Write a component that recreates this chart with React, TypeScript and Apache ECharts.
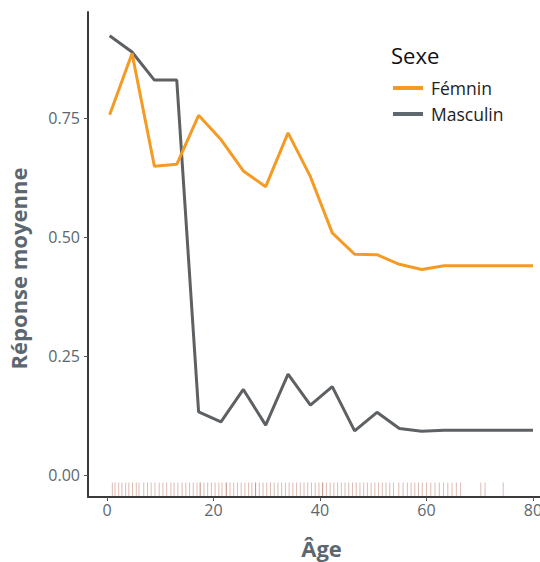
import React, { useEffect, useRef } from "react";
import * as echarts from "echarts";

const ages = [0.5, 4.7, 8.9, 13.1, 17.2, 21.4, 25.6, 29.8, 34.0, 38.2, 42.3, 46.5, 50.7, 54.9, 59.1, 63.3, 67.4, 71.6, 75.8, 80.0];
const femnin = [0.757, 0.886, 0.649, 0.653, 0.756, 0.705, 0.639, 0.606, 0.719, 0.627, 0.509, 0.464, 0.463, 0.443, 0.432, 0.44, 0.44, 0.44, 0.44, 0.44];
const masculin = [0.923, 0.889, 0.83, 0.83, 0.133, 0.112, 0.18, 0.105, 0.212, 0.147, 0.186, 0.093, 0.132, 0.098, 0.092, 0.094, 0.094, 0.094, 0.094, 0.094];
const rugAges = [
  1.0, 1.5, 2.2, 2.8, 3.5, 4.1, 4.8, 5.5, 6.0, 6.9, 7.6, 8.3, 9.0, 9.8, 10.5, 11.2, 12.0, 12.6, 13.3, 14.1,
  14.8, 15.5, 16.2, 16.9, 17.5, 17.5, 18.2, 18.9, 19.6, 20.3, 21.0, 21.6, 22.4, 22.4, 23.1, 23.8, 24.5, 25.2,
  25.9, 26.6, 27.2, 27.9, 27.9, 28.6, 29.3, 30.0, 30.7, 31.4, 32.1, 32.8, 33.5, 34.2, 34.9, 35.6, 36.3, 37.0,
  37.7, 38.4, 39.1, 39.8, 40.5, 40.5, 41.2, 41.9, 42.6, 43.3, 44.0, 44.7, 45.4, 46.1, 46.8, 47.5, 48.2, 48.9,
  49.6, 50.3, 51.0, 51.7, 52.4, 53.1, 53.8, 54.8, 55.6, 56.4, 57.1, 57.8, 58.5, 59.2, 60.0, 60.8, 61.6, 62.4,
  63.2, 64.0, 64.8, 65.6, 66.4, 70.2, 71.0, 74.4,
];
const yTicks = [0, 0.25, 0.5, 0.75];
const xTicks = [0, 20, 40, 60, 80];
const seriesNames = ["Fémnin", "Masculin"];

const FONT = "'Open Sans', Lato, sans-serif";
const AXIS_TEXT = "#5c6770";

export default function App() {
  const ref = useRef<HTMLDivElement>(null);
  useEffect(() => {
    if (!ref.current) return;
    const chart = echarts.init(ref.current, undefined, { renderer: "svg" });
    chart.setOption({
      animation: false,
      backgroundColor: "#ffffff",
      textStyle: { fontFamily: FONT },
      grid: { left: 88, top: 12, right: 5, bottom: 65, containLabel: false, outerBoundsMode: "none" },
      xAxis: {
        type: "value",
        min: -3.57,
        max: 84.13,
        name: "Âge",
        nameLocation: "middle",
        nameGap: 40,
        nameTextStyle: { fontSize: 22, fontWeight: "bold", color: AXIS_TEXT, fontFamily: FONT },
        axisLine: { show: true, onZero: false, lineStyle: { color: "#3a3a3a", width: 2 } },
        axisTick: { show: true, customValues: xTicks, length: 4, lineStyle: { color: "#555", width: 1 } },
        axisLabel: { customValues: xTicks, fontSize: 16, color: AXIS_TEXT, margin: 5, fontFamily: FONT },
        splitLine: { show: false },
      },
      yAxis: {
        type: "value",
        min: -0.046,
        max: 0.973,
        name: "Réponse moyenne",
        nameLocation: "middle",
        nameGap: 59,
        nameTextStyle: {
          fontSize: 22,
          fontWeight: "bold",
          color: AXIS_TEXT,
          fontFamily: FONT,
          padding: [0, 28, 0, 0],
        },
        axisLine: { show: true, onZero: false, lineStyle: { color: "#3a3a3a", width: 2 } },
        axisTick: { show: true, customValues: yTicks, length: 4, lineStyle: { color: "#555", width: 1 } },
        axisLabel: {
          customValues: yTicks,
          fontSize: 16,
          color: AXIS_TEXT,
          margin: 8,
          fontFamily: FONT,
          formatter: (v: number) => v.toFixed(2),
        },
        splitLine: { show: false },
      },
      legend: {
        orient: "vertical",
        left: 388,
        top: 74,
        icon: "rect",
        itemWidth: 30,
        itemHeight: 4,
        itemGap: 8,
        data: seriesNames,
        textStyle: { fontSize: 17.5, color: "#222", fontFamily: FONT, padding: [0, 0, 0, 3] },
      },
      graphic: [
        {
          type: "text",
          left: 391,
          top: 44,
          style: { text: "Sexe", fontSize: 22, fill: "#111", fontFamily: FONT },
        },
      ],
      series: [
        {
          type: "custom",
          name: "rug",
          silent: true,
          data: rugAges.map((a) => [a]),
          renderItem: (params: any, api: any) => {
            const p = api.coord([api.value(0), -0.046]);
            return {
              type: "line",
              shape: { x1: p[0], y1: p[1] - 1, x2: p[0], y2: p[1] - 14.5 },
              style: { stroke: "rgba(175,95,75,0.42)", lineWidth: 1 },
            };
          },
          z: 1,
        },
        {
          type: "line",
          name: seriesNames[0],
          data: ages.map((a, i) => [a, femnin[i]]),
          showSymbol: false,
          lineStyle: { color: "#f59b24", width: 3 },
          itemStyle: { color: "#f59b24" },
          z: 3,
        },
        {
          type: "line",
          name: seriesNames[1],
          data: ages.map((a, i) => [a, masculin[i]]),
          showSymbol: false,
          lineStyle: { color: "#5e6163", width: 3 },
          itemStyle: { color: "#5f686d" },
          z: 2,
        },
      ],
    });
    return () => chart.dispose();
  }, []);
  return (
    <div style={{ position: "fixed", left: 0, top: 0, width: 540, height: 562, overflow: "hidden", background: "#fff" }}>
      <div ref={ref} style={{ width: 560, height: 562 }} />
    </div>
  );
}
